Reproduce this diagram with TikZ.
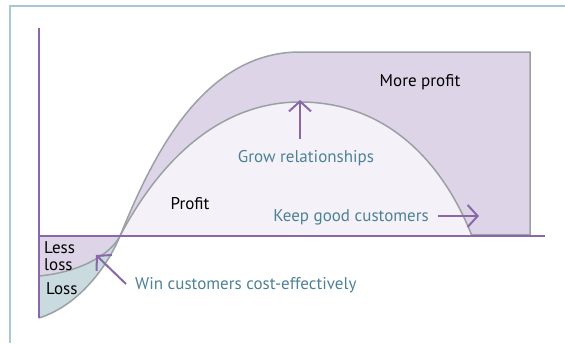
\documentclass[tikz,border=0pt]{standalone}
\usepackage{fontspec}
\setmainfont{PT Sans}
\usetikzlibrary{arrows.meta}
\definecolor{framecol}{HTML}{A9C8D3}
\definecolor{axiscol}{HTML}{8A67A9}
\definecolor{curvecol}{HTML}{9AA0A5}
\definecolor{labelcol}{HTML}{4D8197}
\definecolor{morefill}{HTML}{DDD5E7}
\definecolor{profitfill}{HTML}{F4F2F8}
\definecolor{lossfill}{HTML}{C9DBDF}
\tikzset{font=\fontsize{17}{17}\selectfont}
\tikzset{
  curve/.style={draw=curvecol,line width=1.5pt},
  axis/.style={draw=axiscol,line width=2pt},
  pointer/.style={draw=axiscol,line width=2pt,-{Straight Barb[length=10pt,width=22pt,line width=2pt]}},
  label/.style={text=labelcol},
}

\begin{document}
\begin{tikzpicture}[x=1pt,y=-1pt,every node/.style={inner sep=0pt}]
      \useasboundingbox (0,0) rectangle (565,343);

      % frame
      \draw[framecol,line width=2pt] (10,343) -- (10,6) -- (565,6);

      % regions
      \fill[morefill] (120,236) .. controls (150,163) and (200,52) .. (300,52)
            -- (530,52) -- (530,236) -- cycle;
      \fill[profitfill] (120,236) .. controls (160,160) and (220,102) .. (300,102)
            .. controls (385,102) and (442,160) .. (472,236) -- cycle;
      \fill[morefill] (39,236) -- (39,276) .. controls (80,272) and (110,255) .. (120,236) -- cycle;
      \fill[lossfill] (39,318) .. controls (80,305) and (108,265) .. (120,236)
            .. controls (110,255) and (80,272) .. (39,276) -- cycle;

      % curves
      \draw[curve] (39,318) .. controls (80,305) and (108,265) .. (120,236)
            .. controls (150,163) and (200,52) .. (300,52) -- (530,52) -- (530,236);
      \draw[curve] (39,276) .. controls (80,272) and (110,255) .. (120,236)
            .. controls (160,160) and (220,102) .. (300,102)
            .. controls (385,102) and (442,160) .. (472,236);
      \draw[curve] (472,235) -- (530,235);

      % axes
      \draw[axis] (39,28) -- (39,318);
      \draw[axis] (38,236) -- (545,236);

      % labels
      \node (More) at (420,82) {More profit};
      \node (Profit) at (190,204) {Profit};
      \node[anchor=west,align=left,font=\fontsize{17}{17}\selectfont] (Less) at (44,256) {Less\\loss};
      \node[anchor=west] (Loss) at (46,289) {Loss};
      \node[label] (Grow) at (306,158) {Grow relationships};
      \node[label] (Keep) at (351,217) {Keep good customers};
      \node[label,anchor=west] (Win) at (135,285) {Win customers cost-effectively};

      \coordinate (GrowTail) at (300,139);
      \coordinate (GrowTip) at (300,100);
      \coordinate (KeepTail) at (438,216);
      \coordinate (KeepTip) at (479,216);
      \coordinate (WinTail) at (126,284);
      \coordinate (WinTip) at (96,255);

      \draw [pointer](GrowTail) -- (GrowTip);
      \draw [pointer](KeepTail) -- (KeepTip);
      \draw [pointer](WinTail) -- (WinTip);
\end{tikzpicture}
\end{document}
